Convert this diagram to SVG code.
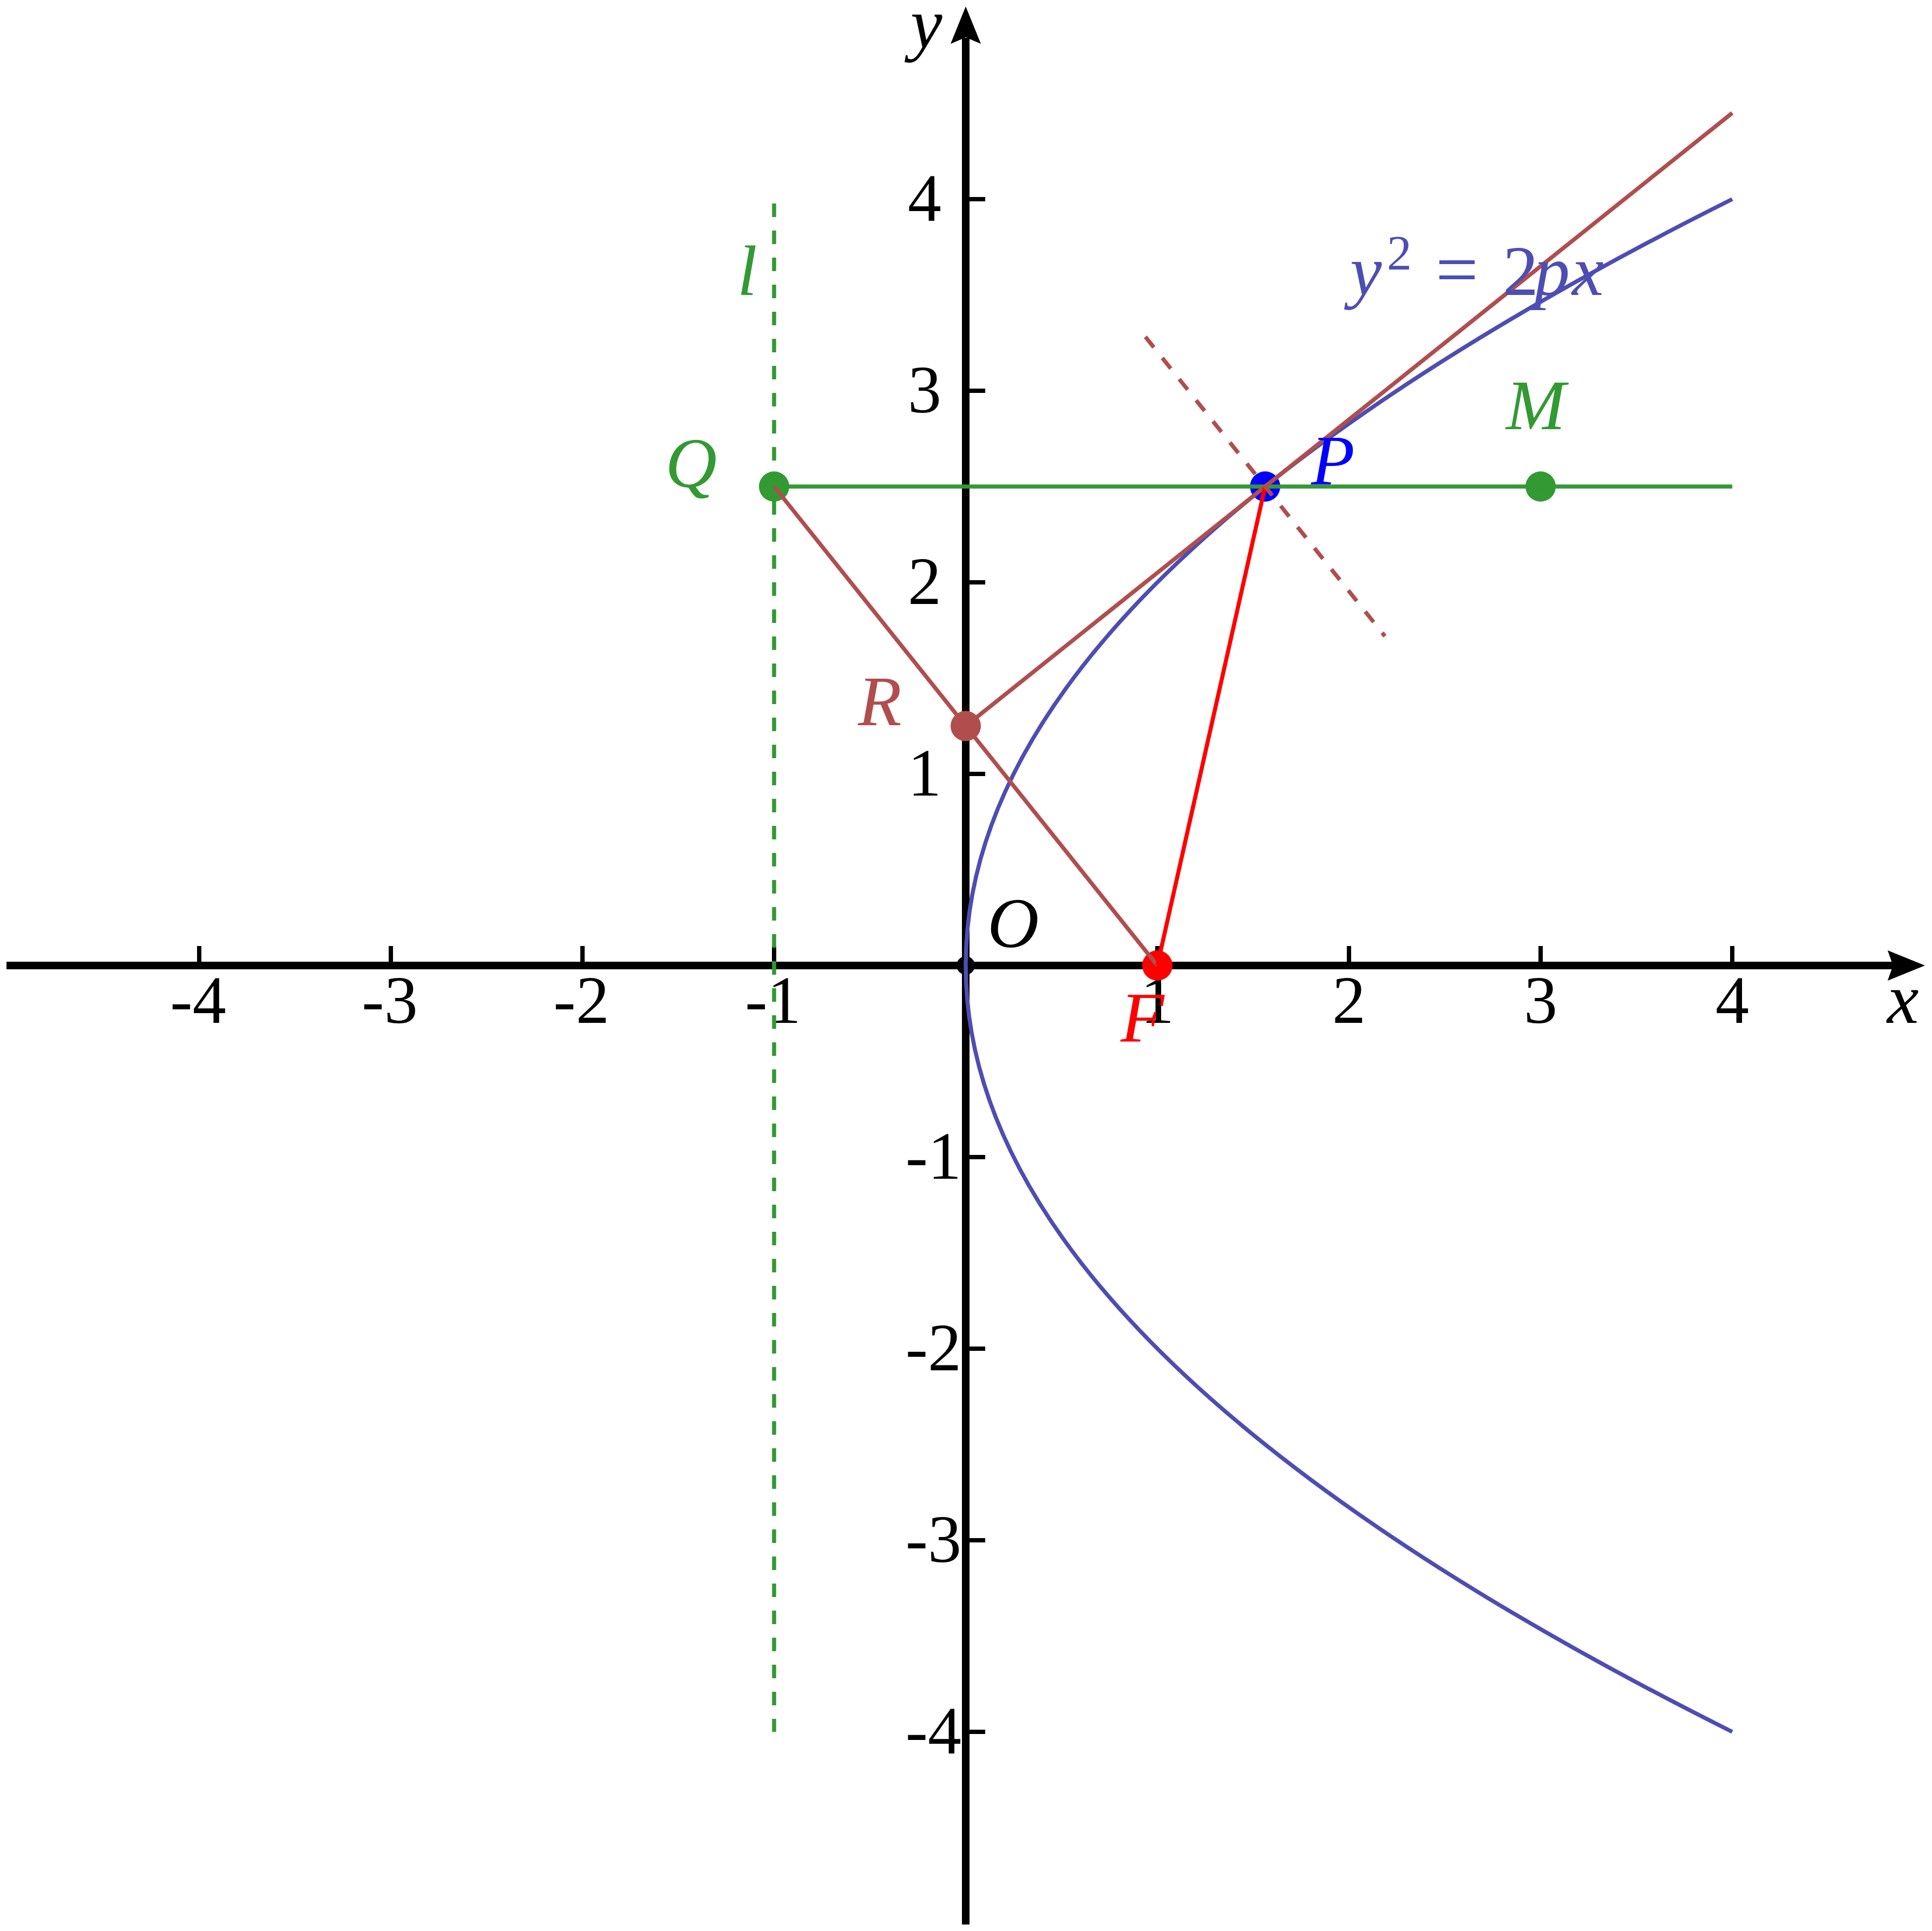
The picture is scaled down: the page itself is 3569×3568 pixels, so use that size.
<svg xmlns="http://www.w3.org/2000/svg" width="3569" height="3568" viewBox="0 0 3569 3568">
<style>
.ax{stroke:#000;stroke-width:14;fill:none}
.tk{stroke:#000;stroke-width:8}
.num{font-family:"Liberation Serif",serif;font-size:124px;fill:#000}
.lbl{font-family:"Liberation Serif",serif;font-style:italic;font-size:132px}
.ln{stroke-width:7.5;fill:none}
.green{stroke:#339933}
.brown{stroke:#b04e4e}
.red{stroke:#ff0000}
.par{stroke:#4d4db3}
.dash{stroke-dasharray:25 25}
</style>
<rect width="3569" height="3568" fill="#fff"/>
<g id="axes">
<line class="ax" x1="12" y1="1784" x2="3500" y2="1784"/>
<polygon points="3556,1784 3487,1756 3497,1784 3487,1812" fill="#000"/>
<line class="ax" x1="1784" y1="3556" x2="1784" y2="70"/>
<polygon points="1784,12 1756,81 1784,69 1812,81" fill="#000"/>
<g id="xticks">
<line class="tk" x1="368" y1="1748" x2="368" y2="1784"/>
<line class="tk" x1="722" y1="1748" x2="722" y2="1784"/>
<line class="tk" x1="1076" y1="1748" x2="1076" y2="1784"/>
<line class="tk" x1="1430" y1="1748" x2="1430" y2="1784"/>
<line class="tk" x1="2138" y1="1748" x2="2138" y2="1784"/>
<line class="tk" x1="2492" y1="1748" x2="2492" y2="1784"/>
<line class="tk" x1="2846" y1="1748" x2="2846" y2="1784"/>
<line class="tk" x1="3200" y1="1748" x2="3200" y2="1784"/>
</g>
<g id="yticks">
<line class="tk" x1="1784" y1="368" x2="1820" y2="368"/>
<line class="tk" x1="1784" y1="722" x2="1820" y2="722"/>
<line class="tk" x1="1784" y1="1076" x2="1820" y2="1076"/>
<line class="tk" x1="1784" y1="1430" x2="1820" y2="1430"/>
<line class="tk" x1="1784" y1="2138" x2="1820" y2="2138"/>
<line class="tk" x1="1784" y1="2492" x2="1820" y2="2492"/>
<line class="tk" x1="1784" y1="2846" x2="1820" y2="2846"/>
<line class="tk" x1="1784" y1="3200" x2="1820" y2="3200"/>
</g>
<g id="xlabels" class="num" text-anchor="middle">
<text x="366" y="1890">-4</text>
<text x="720" y="1890">-3</text>
<text x="1074" y="1890">-2</text>
<text x="1428" y="1890">-1</text>
<text x="2138" y="1890">1</text>
<text x="2492" y="1890">2</text>
<text x="2846" y="1890">3</text>
<text x="3200" y="1890">4</text>
</g>
<g id="ylabels" class="num" text-anchor="end">
<text x="1739" y="408">4</text>
<text x="1739" y="762">3</text>
<text x="1739" y="1116">2</text>
<text x="1739" y="1470">1</text>
<text x="1776" y="2178">-1</text>
<text x="1776" y="2532">-2</text>
<text x="1776" y="2886">-3</text>
<text x="1776" y="3240">-4</text>
</g>
<text class="lbl" x="1682" y="88" fill="#000" font-size="126">y</text>
<text class="lbl" x="3486" y="1890" fill="#000">x</text>
</g>
<g id="node-O"><circle cx="1784" cy="1784" r="17" fill="#000"/></g>
<g id="node-F"><circle cx="2138" cy="1784" r="28" fill="#ff0000"/></g>
<g id="node-P"><circle cx="2337.1" cy="899" r="28" fill="#0000ff"/></g>
<g id="node-Q"><circle cx="1430" cy="899" r="28" fill="#339933"/></g>
<g id="node-M"><circle cx="2846" cy="899" r="28" fill="#339933"/></g>
<g id="node-R"><circle cx="1784" cy="1341.5" r="28" fill="#b04e4e"/></g>
<g id="connectors">
<line id="directrix" class="ln green dash" x1="1430" y1="368" x2="1430" y2="3200" stroke-dashoffset="42"/>
<path id="parabola" class="ln par" d="M3200,3200 Q368,1784 3200,368"/>
<line id="QM" class="ln green" x1="1430" y1="899" x2="3200" y2="899"/>
<line id="QF" class="ln brown" x1="1430" y1="899" x2="2138" y2="1784"/>
<line id="tangent" class="ln brown" x1="1784" y1="1341.5" x2="3200" y2="208.7"/>
<line id="PF" class="ln red" x1="2337.1" y1="899" x2="2138" y2="1784"/>
<line id="normal" class="ln brown dash" x1="2115.9" y1="622.4" x2="2558.4" y2="1175.6"/>
</g>
<g id="labels">
<text class="lbl" x="1824" y="1750" fill="#000">O</text>
<text class="lbl" x="2070" y="1925" fill="#ff0000">F</text>
<text class="lbl" x="2422" y="895" fill="#0000ff">P</text>
<text class="lbl" x="1229" y="900" fill="#339933">Q</text>
<text class="lbl" x="2782" y="793" fill="#339933">M</text>
<text class="lbl" x="1585" y="1340" fill="#b04e4e">R</text>
<text class="lbl" x="1362" y="545" fill="#339933">l</text>
<text class="lbl" y="545" fill="#4d4db3"><tspan x="2494">y</tspan><tspan x="2562" y="498" font-style="normal" font-size="92">2</tspan><tspan x="2652" y="545" font-style="normal" font-size="140">=</tspan><tspan x="2776" font-style="normal">2</tspan><tspan x="2834">p</tspan><tspan x="2904">x</tspan></text>
</g>
</svg>
